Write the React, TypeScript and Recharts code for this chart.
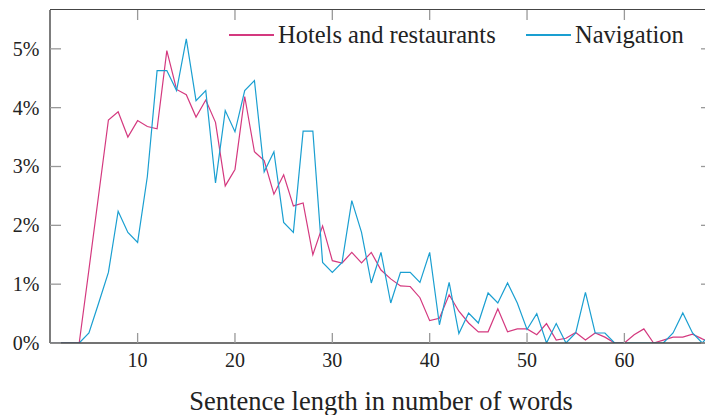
import React from 'react'
import { LineChart, Line, XAxis, YAxis, Legend } from 'recharts'

const lengths = Array.from({ length: 69 }, (_, i) => i + 1)

const hotels = [
  0, 0, 0, 0, 1.25, 2.52, 3.79, 3.93, 3.5, 3.78,
  3.68, 3.64, 4.97, 4.31, 4.22, 3.84, 4.13, 3.75, 2.67, 2.95,
  4.19, 3.25, 3.1, 2.53, 2.86, 2.33, 2.38, 1.5, 1.99, 1.4,
  1.36, 1.54, 1.36, 1.54, 1.24, 1.09, 0.97, 0.96, 0.77, 0.38,
  0.42, 0.82, 0.54, 0.34, 0.19, 0.19, 0.58, 0.19, 0.24, 0.24,
  0.14, 0.33, 0.05, 0.08, 0.18, 0.05, 0.17, 0.1, 0, 0,
  0.14, 0.24, 0, 0.05, 0.1, 0.1, 0.15, 0.07, 0,
]

const navigation = [
  0, 0, 0, 0, 0.17, 0.68, 1.2, 2.24, 1.88, 1.71,
  2.83, 4.63, 4.63, 4.29, 5.17, 4.12, 4.29, 2.72, 3.95, 3.59,
  4.29, 4.46, 2.91, 3.25, 2.05, 1.88, 3.6, 3.6, 1.37, 1.2,
  1.37, 2.42, 1.88, 1.02, 1.54, 0.68, 1.2, 1.2, 1.03, 1.54,
  0.31, 1.03, 0.16, 0.51, 0.34, 0.85, 0.68, 1.02, 0.68, 0.23,
  0.5, 0, 0.33, 0, 0.17, 0.86, 0.17, 0.17, 0, 0,
  0, 0, 0, 0, 0.17, 0.51, 0.17, 0, 0.19,
]

const xTicks = [10, 20, 30, 40, 50, 60]
const yTicks = [0, 1, 2, 3, 4, 5]
const X_DOMAIN = [1, 69]
const Y_DOMAIN = [0, 5.66]

const data = lengths.map((len, i) => ({
  len,
  hotels: hotels[i],
  navigation: navigation[i],
}))

const SERIF = 'Liberation Serif'
const FRAME = '#454545'
const TICK = '#999'
const PINK = '#d4397f'
const BLUE = '#1a9fd1'

// chart box
const CHART_W = 720
const CHART_H = 415
const MARGIN = { top: 10, right: 7, bottom: 0, left: 0 }
const Y_AXIS_W = 50

function leftTick(props: any) {
  const { x, y, payload } = props
  return (
    <g key={`lt-${payload.value}`}>
      <line x1={x} x2={x + 11} y1={y} y2={y} stroke={TICK} strokeWidth={1.3} />
      <text x={x - 10.5} y={y + 7} textAnchor="end" fontFamily={SERIF} fontSize={20} fill="#222">
        {payload.value + '%'}
      </text>
    </g>
  )
}

function rightTick(props: any) {
  const { x, y, payload } = props
  return <line key={`rt-${payload.value}`} x1={x - 11} x2={x} y1={y} y2={y} stroke={TICK} strokeWidth={1.3} />
}

function bottomTick(props: any) {
  const { x, y, payload } = props
  const top = MARGIN.top
  return (
    <g key={`bt-${payload.value}`}>
      <line x1={x} x2={x} y1={y - 10} y2={y} stroke={TICK} strokeWidth={1.3} />
      <line x1={x} x2={x} y1={top} y2={top + 10} stroke={TICK} strokeWidth={1.3} />
      <text x={x} y={y + 24} textAnchor="middle" fontFamily={SERIF} fontSize={20} fill="#222">
        {payload.value}
      </text>
    </g>
  )
}

function LegendContent() {
  const items = [
    { name: 'Hotels and restaurants', color: PINK, left: 0 },
    { name: 'Navigation', color: BLUE, left: 297 },
  ]
  return (
    <div style={{ position: 'relative', height: 24, width: 460 }}>
      {items.map((it) => (
        <div
          key={it.name}
          style={{
            position: 'absolute',
            left: it.left,
            top: 0,
            display: 'flex',
            alignItems: 'center',
            height: 24,
            whiteSpace: 'nowrap',
          }}
        >
          <span style={{ display: 'inline-block', width: 45, height: 1.4, background: it.color, marginRight: 4 }} />
          <span style={{ fontFamily: SERIF, fontSize: 24.5, lineHeight: '24px', color: '#222' }}>{it.name}</span>
        </div>
      ))}
    </div>
  )
}

export default function App() {
  return (
    <div style={{ position: 'absolute', left: 0, top: 0, width: 705, height: 415, overflow: 'hidden', background: '#fff' }}>
      <LineChart width={CHART_W} height={CHART_H} data={data} margin={MARGIN}>
        <XAxis
          dataKey="len"
          type="number"
          domain={X_DOMAIN}
          ticks={xTicks}
          height={72}
          tickSize={0}
          tickMargin={0}
          tickLine={false}
          tick={bottomTick}
          axisLine={{ stroke: FRAME, strokeWidth: 1.4 }}
          label={{
            value: 'Sentence length in number of words',
            position: 'insideBottom',
            offset: 5,
            fontFamily: SERIF,
            fontSize: 26.5,
            fill: '#222',
          }}
        />
        <YAxis
          yAxisId="left"
          type="number"
          domain={Y_DOMAIN}
          allowDataOverflow
          ticks={yTicks}
          width={Y_AXIS_W}
          tickSize={0}
          tickMargin={0}
          tickLine={false}
          tick={leftTick}
          axisLine={{ stroke: FRAME, strokeWidth: 1.4 }}
        />
        <YAxis
          yAxisId="right"
          orientation="right"
          type="number"
          domain={Y_DOMAIN}
          allowDataOverflow
          ticks={yTicks}
          width={1}
          tickSize={0}
          tickMargin={0}
          tickLine={false}
          tick={rightTick}
          axisLine={{ stroke: FRAME, strokeWidth: 1.4 }}
        />
        <Legend
          layout="horizontal"
          verticalAlign="middle"
          content={<LegendContent />}
          wrapperStyle={{ top: 23, left: 229, width: 460, height: 24 }}
        />
        <Line
          yAxisId="left"
          type="linear"
          dataKey="hotels"
          name="Hotels and restaurants"
          stroke={PINK}
          strokeWidth={1.2}
          dot={false}
          isAnimationActive={false}
        />
        <Line
          yAxisId="left"
          type="linear"
          dataKey="navigation"
          name="Navigation"
          stroke={BLUE}
          strokeWidth={1.2}
          dot={false}
          isAnimationActive={false}
        />
      </LineChart>
      {/* top border of the plot frame */}
      <div
        style={{
          position: 'absolute',
          left: MARGIN.left + Y_AXIS_W,
          top: MARGIN.top - 0.7,
          width: CHART_W - MARGIN.left - MARGIN.right - Y_AXIS_W - 1,
          borderTop: `1.4px solid ${FRAME}`,
          pointerEvents: 'none',
        }}
      />
    </div>
  )
}
